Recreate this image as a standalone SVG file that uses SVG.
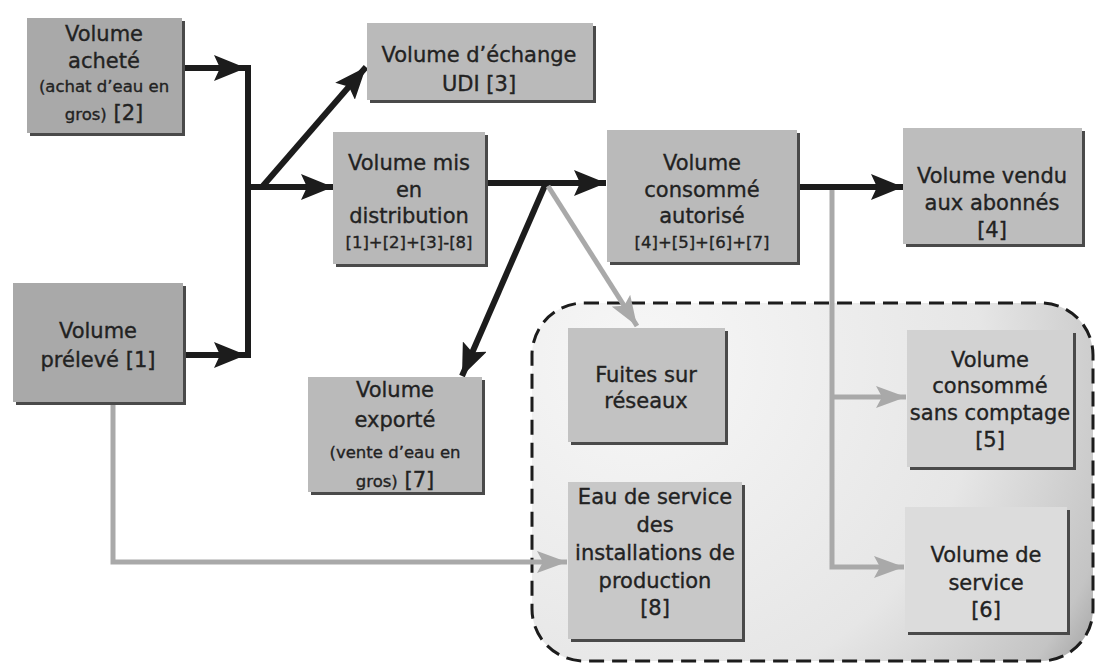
<svg xmlns="http://www.w3.org/2000/svg" width="1097" height="666" viewBox="0 0 1097 666">
  <style>
    .box { stroke: none; }
    .shadow { fill: #4a4a4a; }
    .t { font-family: "DejaVu Sans", Verdana, sans-serif; font-size: 21px; fill: #222222; stroke: #222222; stroke-width: 0.35; text-anchor: middle; }
    .s { font-size: 16.5px; }
    .k { fill: none; stroke: #1c1c1c; stroke-width: 6; }
    .g { fill: none; stroke: #a9a9a9; stroke-width: 5; }
  </style>
  <defs>
    <marker id="headBlack" markerUnits="userSpaceOnUse" markerWidth="34" markerHeight="26" refX="32" refY="13" orient="auto">
      <path d="M0,0 L32,13 L0,26 L6,13 Z" fill="#1c1c1c"/>
    </marker>
    <marker id="headGrey" markerUnits="userSpaceOnUse" markerWidth="32" markerHeight="22" refX="30" refY="11" orient="auto">
      <path d="M0,0 L30,11 L0,22 L6,11 Z" fill="#a9a9a9"/>
    </marker>
    <radialGradient id="zoneFill" gradientUnits="userSpaceOnUse" cx="640" cy="360" r="620">
      <stop offset="0" stop-color="#f7f7f7"/>
      <stop offset="0.55" stop-color="#e6e6e6"/>
      <stop offset="0.8" stop-color="#c4c4c4"/>
      <stop offset="1" stop-color="#6a6a6a"/>
    </radialGradient>
  </defs>

  <rect width="1097" height="666" fill="#ffffff"/>

  <!-- losses / unbilled zone -->
  <g id="zone">
    <rect x="532" y="303" width="561" height="358" rx="52" ry="52" fill="url(#zoneFill)" stroke="#1c1c1c" stroke-width="3" stroke-dasharray="15 8"/>
  </g>

  <!-- connectors -->
  <g id="connectors">
    <!-- inputs merge -->
    <line class="k" x1="182" y1="68" x2="246" y2="68" marker-end="url(#headBlack)"/>
    <line class="k" x1="183" y1="355" x2="246" y2="355" marker-end="url(#headBlack)"/>
    <line class="k" x1="248" y1="65" x2="248" y2="358"/>
    <line class="k" x1="248" y1="187" x2="333" y2="187" marker-end="url(#headBlack)"/>
    <line class="k" x1="262" y1="187" x2="366" y2="67" marker-end="url(#headBlack)"/>
    <!-- distribution -->
    <line class="k" x1="486" y1="183" x2="606" y2="183" marker-end="url(#headBlack)"/>
    <line class="k" x1="546" y1="183" x2="462" y2="376" marker-end="url(#headBlack)"/>
    <line class="g" x1="548" y1="186" x2="637" y2="326" marker-end="url(#headGrey)"/>
    <!-- authorised consumption -->
    <line class="k" x1="797" y1="187" x2="903" y2="187" marker-end="url(#headBlack)"/>
    <path class="g" d="M832,190 V567 H904" marker-end="url(#headGrey)"/>
    <line class="g" x1="832" y1="397" x2="906" y2="397" marker-end="url(#headGrey)"/>
    <!-- production service water -->
    <path class="g" d="M113,403 V562 H567" marker-end="url(#headGrey)"/>
  </g>

  <g id="achete">
    <rect class="shadow" x="30" y="21" width="155" height="115"/>
    <rect class="box" x="27" y="18" width="155" height="115" fill="#a9a9a9"/>
    <text class="t" x="104" y="41">Volume</text>
    <text class="t" x="104" y="68">acheté</text>
    <text class="t s" x="104" y="92">(achat d’eau en</text>
    <text class="t" x="104" y="120"><tspan class="s">gros)</tspan> [2]</text>
  </g>

  <g id="udi">
    <rect class="shadow" x="370" y="26" width="226" height="77"/>
    <rect class="box" x="367" y="23" width="226" height="77" fill="#bababa"/>
    <text class="t" x="479" y="62">Volume d’échange</text>
    <text class="t" x="479" y="91">UDI [3]</text>
  </g>

  <g id="distribution">
    <rect class="shadow" x="336" y="135" width="152" height="132"/>
    <rect class="box" x="333" y="132" width="152" height="132" fill="#b8b8b8"/>
    <text class="t" x="409" y="170">Volume mis</text>
    <text class="t" x="409" y="197">en</text>
    <text class="t" x="409" y="223">distribution</text>
    <text class="t s" x="409" y="248">[1]+[2]+[3]-[8]</text>
  </g>

  <g id="autorise">
    <rect class="shadow" x="610" y="133" width="190" height="132"/>
    <rect class="box" x="607" y="130" width="190" height="132" fill="#bababa"/>
    <text class="t" x="702" y="170">Volume</text>
    <text class="t" x="702" y="197">consommé</text>
    <text class="t" x="702" y="223">autorisé</text>
    <text class="t s" x="702" y="248">[4]+[5]+[6]+[7]</text>
  </g>

  <g id="vendu">
    <rect class="shadow" x="906" y="131" width="179" height="116"/>
    <rect class="box" x="903" y="128" width="179" height="116" fill="#bdbdbd"/>
    <text class="t" x="992" y="183">Volume vendu</text>
    <text class="t" x="992" y="210">aux abonnés</text>
    <text class="t" x="992" y="237">[4]</text>
  </g>

  <g id="preleve">
    <rect class="shadow" x="16" y="286" width="170" height="119"/>
    <rect class="box" x="13" y="283" width="170" height="119" fill="#a9a9a9"/>
    <text class="t" x="98" y="338">Volume</text>
    <text class="t" x="98" y="367">prélevé [1]</text>
  </g>

  <g id="exporte">
    <rect class="shadow" x="311" y="380" width="174" height="115"/>
    <rect class="box" x="308" y="377" width="174" height="115" fill="#bababa"/>
    <text class="t" x="395" y="397">Volume</text>
    <text class="t" x="395" y="427">exporté</text>
    <text class="t s" x="395" y="458">(vente d’eau en</text>
    <text class="t" x="395" y="487"><tspan class="s">gros)</tspan> [7]</text>
  </g>

  <g id="fuites">
    <rect class="shadow" x="571" y="331" width="157" height="114"/>
    <rect class="box" x="568" y="328" width="157" height="114" fill="#c2c2c2"/>
    <text class="t" x="646" y="382">Fuites sur</text>
    <text class="t" x="646" y="408">réseaux</text>
  </g>

  <g id="eau-service">
    <rect class="shadow" x="571" y="485" width="174" height="157"/>
    <rect class="box" x="568" y="482" width="174" height="157" fill="#c8c8c8"/>
    <text class="t" x="655" y="504">Eau de service</text>
    <text class="t" x="655" y="532">des</text>
    <text class="t" x="655" y="560">installations de</text>
    <text class="t" x="655" y="588">production</text>
    <text class="t" x="655" y="615">[8]</text>
  </g>

  <g id="sans-comptage">
    <rect class="shadow" x="910" y="333" width="166" height="137"/>
    <rect class="box" x="907" y="330" width="166" height="137" fill="#d2d2d2"/>
    <text class="t" x="990" y="367">Volume</text>
    <text class="t" x="990" y="393">consommé</text>
    <text class="t" x="990" y="420">sans comptage</text>
    <text class="t" x="990" y="447">[5]</text>
  </g>

  <g id="service">
    <rect class="shadow" x="908" y="510" width="162" height="125"/>
    <rect class="box" x="905" y="507" width="162" height="125" fill="#dcdcdc"/>
    <text class="t" x="986" y="562">Volume de</text>
    <text class="t" x="986" y="590">service</text>
    <text class="t" x="986" y="617">[6]</text>
  </g>
</svg>
